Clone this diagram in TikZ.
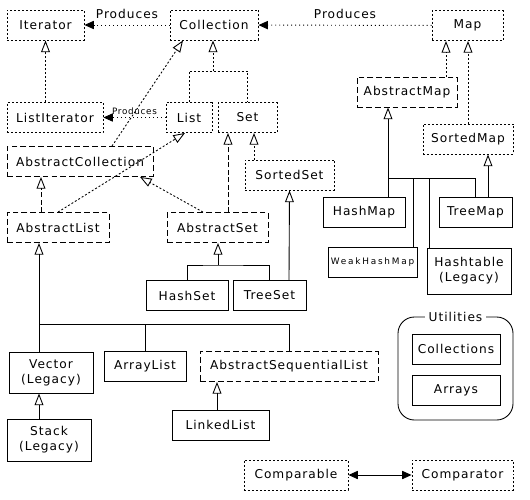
\documentclass[tikz,border=0pt]{standalone}
\usepackage{fontspec}
\setmainfont{DejaVu Sans}[LetterSpace=8]
\newfontfamily\widesmall{DejaVu Sans}[LetterSpace=20]
\usetikzlibrary{arrows.meta, calc}

\begin{document}
\begin{tikzpicture}[
    x=0.03cm, y=-0.03cm,
    every node/.style = {font=\fontsize{10.4}{12.8}\selectfont},
    box/.style        = {draw, line width=0.75pt, inner sep=0pt, minimum height=0.9cm, align=center},
    iface/.style      = {box, dash pattern=on 1.7pt off 1.7pt},
    abstr/.style      = {box, dash pattern=on 5pt off 2.6pt},
    concr/.style      = {box},
    ilink/.style      = {line width=0.75pt, dash pattern=on 1.7pt off 1.7pt, -{Triangle[open,length=10pt,width=7.5pt]}},
    alink/.style      = {line width=0.75pt, dash pattern=on 4pt off 2.4pt, -{Triangle[open,length=10pt,width=7.5pt]}},
    slink/.style      = {line width=0.75pt, -{Triangle[open,length=10pt,width=7.5pt]}},
    plain/.style      = {line width=0.75pt},
    produces/.style   = {line width=0.8pt, dash pattern=on 0.8pt off 2.6pt, -{Triangle[length=8pt,width=7pt]}}
    ]
      \useasboundingbox (0,0) rectangle (530,499);

      % interfaces -----------------------------------------------
      \node[iface, minimum width=2.31cm] (iterator)   at (45.5,25)   {Iterator};
      \node[iface, minimum width=2.64cm] (collection) at (214,25)    {Collection};
      \node[iface, minimum width=2.13cm] (map)        at (467.5,25.5) {Map};
      \node[iface, minimum width=2.88cm] (listiter)   at (55,117.5)  {ListIterator};
      \node[iface, minimum width=1.38cm] (list)       at (189,117.5) {List};
      \node[iface, minimum width=1.77cm] (set)        at (247.5,117.5) {Set};
      \node[iface, minimum width=2.67cm] (sortedset)  at (289.5,175) {SortedSet};
      \node[iface, minimum width=2.7cm]  (sortedmap)  at (468,139)   {SortedMap};
      \node[iface, minimum width=3.12cm] (comparable) at (296,475)   {Comparable};
      \node[iface, minimum width=3.03cm] (comparator) at (462.5,475) {Comparator};

      % abstract classes -----------------------------------------
      \node[abstr, minimum width=4.38cm] (abscoll)  at (80,161.5)    {AbstractCollection};
      \node[abstr, minimum width=3.06cm] (abslist)  at (58,227.5)    {AbstractList};
      \node[abstr, minimum width=3.03cm] (absset)   at (217.5,227.5) {AbstractSet};
      \node[abstr, minimum width=3.0cm]  (absmap)   at (407,92)      {AbstractMap};
      \node[abstr, minimum width=5.34cm] (absseq)   at (289,366.5)   {AbstractSequentialList};

      % concrete classes -----------------------------------------
      \node[concr, minimum width=2.46cm] (hashmap)  at (364,212.5) {HashMap};
      \node[concr, minimum width=2.19cm] (treemap)  at (475.5,212.5) {TreeMap};
      \node[concr, minimum width=2.67cm, font=\widesmall\fontsize{7.6}{9}\selectfont] (weakmap) at (372.5,262) {WeakHashMap};
      \node[concr, minimum width=2.52cm, minimum height=1.38cm] (hashtable) at (469,271) {Hashtable\\(Legacy)};
      \node[concr, minimum width=2.46cm] (hashset)  at (187,295.5) {HashSet};
      \node[concr, minimum width=2.19cm] (treeset)  at (269.5,295.5) {TreeSet};
      \node[concr, minimum width=2.52cm, minimum height=1.23cm] (vector) at (51,372.5) {Vector\\(Legacy)};
      \node[concr, minimum width=2.46cm] (arraylist) at (145,366.5) {ArrayList};
      \node[concr, minimum width=2.52cm, minimum height=1.26cm] (stack) at (49,440) {Stack\\(Legacy)};
      \node[concr, minimum width=2.91cm] (linkedlist) at (220.5,425) {LinkedList};

      % utilities ------------------------------------------------
      \node[draw, line width=0.75pt, rounded corners=14pt, minimum width=3.45cm, minimum height=3.09cm] (utils) at (455.5,368.5) {};
      \node[fill=white, inner sep=3pt] (utilslabel) at (utils.north) {Utilities};
      \node[concr, minimum width=2.64cm] (collections) at (456,349)   {Collections};
      \node[concr, minimum width=2.64cm] (arrays)      at (456,390.5) {Arrays};

      % junctions ------------------------------------------------
      \coordinate (colj)  at (213,71);
      \coordinate (mapj)  at (388,178);
      \coordinate (setj)  at (218,265);
      \coordinate (listj) at (39,324);

      % produces -------------------------------------------------
      \draw[produces] (collection) -- node[above=2pt] {Produces} (iterator);
      \draw[produces] (map) -- node[above=2pt] {Produces} (collection);
      \draw[produces] (list) -- node[above=-1pt, font=\fontsize{7.5}{9}\selectfont] {Produces} (listiter);
      \draw[line width=0.8pt, {Triangle[length=8pt,width=7pt]}-{Triangle[length=8pt,width=7pt]}] (comparable) -- (comparator);

      % interface inheritance ------------------------------------
      \draw[ilink] (listiter.north -| iterator.south) -- (iterator.south);
      \draw[plain, dash pattern=on 1.7pt off 1.7pt] (list.north) |- (colj) -| (set.north);
      \draw[ilink] (colj) -- (colj |- collection.south);
      \draw[ilink] ($(abscoll.north)+(32,0)$) -- ($(collection.south)+(-31,0)$);
      \draw[ilink] (abslist.north) -- ($(list.south)+(-4,0)$);
      \draw[ilink] ($(absset.north)+(-14.5,0)$) -- ($(abscoll.south)+(60,0)$);
      \draw[ilink] ($(sortedset.north)+(-35.5,0)$) -- ($(set.south)+(6.5,0)$);
      \draw[ilink] ($(absmap.north)+(39,0)$) -- ($(map.south)+(-21.5,0)$);
      \draw[ilink] (sortedmap.north) -- (sortedmap.north |- map.south);

      % abstract inheritance -------------------------------------
      \draw[alink] ($(abslist.north)+(-17,0)$) -- ($(abscoll.south)+(-39,0)$);
      \draw[alink] ($(absset.north)+(10.5,0)$) -- ($(set.south)+(-19.5,0)$);

      % class inheritance ----------------------------------------
      \draw[slink] ($(hashmap.north)+(24,0)$) -- ($(absmap.south)+(-19,0)$);
      \draw[plain] (mapj) -| (treemap.north);
      \draw[plain] ($(weakmap.north)+(40.5,0)$) -- ++(0,-69);
      \draw[plain] ($(hashtable.north)+(-40,0)$) -- ++(0,-70);
      \draw[slink] ($(treemap.north)+(12.5,0)$) -- ($(sortedmap.south)+(20,0)$);
      \draw[plain] (hashset.north) |- (setj) -| (treeset.north);
      \draw[slink] (setj) -- (setj |- absset.south);
      \draw[slink] ($(treeset.north)+(19.5,0)$) -- (sortedset.south);
      \draw[slink] ($(vector.north)+(-12,0)$) -- ($(abslist.south)+(-19,0)$);
      \draw[plain] (listj) -| (absseq.north);
      \draw[plain] (arraylist.north) -- (arraylist.north |- listj);
      \draw[slink] ($(stack.north)+(-10,0)$) -- ($(vector.south)+(-12,0)$);
      \draw[slink] ($(linkedlist.north)+(-3.5,0)$) -- ($(absseq.south)+(-72,0)$);
    \end{tikzpicture}
\end{document}
